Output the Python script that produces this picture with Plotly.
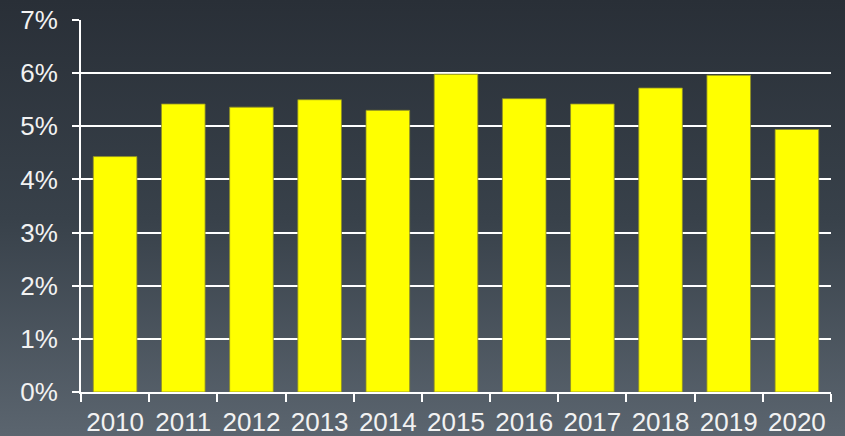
import base64
import plotly.graph_objects as go

years = ["2010", "2011", "2012", "2013", "2014", "2015", "2016", "2017", "2018", "2019", "2020"]
rates = [4.43, 5.42, 5.36, 5.50, 5.30, 5.98, 5.52, 5.42, 5.72, 5.96, 4.94]
y_ticks = [0, 1, 2, 3, 4, 5, 6, 7]
y_tick_labels = ["0%", "1%", "2%", "3%", "4%", "5%", "6%", "7%"]

svg = ('<svg xmlns="http://www.w3.org/2000/svg" width="100" height="100" preserveAspectRatio="none">'
       '<defs><linearGradient id="g" x1="0" y1="0" x2="0" y2="1">'
       '<stop offset="0" stop-color="#292f37"/><stop offset="0.5" stop-color="#38414a"/>'
       '<stop offset="1" stop-color="#5b656f"/></linearGradient></defs>'
       '<rect width="100" height="100" fill="url(#g)"/></svg>')
uri = "data:image/svg+xml;base64," + base64.b64encode(svg.encode()).decode()

fig = go.Figure(go.Bar(
    x=years, y=rates,
    marker=dict(color="#ffff00", line=dict(color="rgba(140,140,40,0.8)", width=1)),
    width=0.64,
))

W, H = 845, 436
ml, mr, mt, mb = 81, 14, 20, 44
pw, ph = W - ml - mr, H - mt - mb

fig.add_layout_image(dict(
    source=uri, xref="paper", yref="paper",
    x=-ml / pw, y=1 + mt / ph, sizex=W / pw, sizey=H / ph,
    xanchor="left", yanchor="top", sizing="stretch", layer="below",
))

fig.update_layout(
    width=W, height=H,
    margin=dict(l=ml, r=mr, t=mt, b=mb, autoexpand=False),
    paper_bgcolor="#3a424b", plot_bgcolor="rgba(0,0,0,0)",
    font=dict(family="Liberation Sans, Arial, sans-serif", size=26, color="#f2f2f2"),
    showlegend=False,
    xaxis=dict(
        automargin=False, tickangle=0,
        showline=True, linecolor="white", linewidth=2,
        ticks="outside", tickson="boundaries", ticklen=8, tickwidth=2, tickcolor="white",
        showgrid=False, ticklabelstandoff=6,
    ),
    yaxis=dict(
        automargin=False,
        range=[0, 7], tickvals=y_ticks, ticktext=y_tick_labels,
        showline=True, linecolor="white", linewidth=2,
        ticks="outside", ticklen=7, tickwidth=2, tickcolor="white",
        showgrid=True, gridcolor="white", gridwidth=2,
        zeroline=False, ticklabelstandoff=9,
    ),
)

fig.write_html(
    "out.html",
    config={"displayModeBar": False},
    post_script="document.body.style.margin='0';document.body.style.overflow='hidden';",
)
